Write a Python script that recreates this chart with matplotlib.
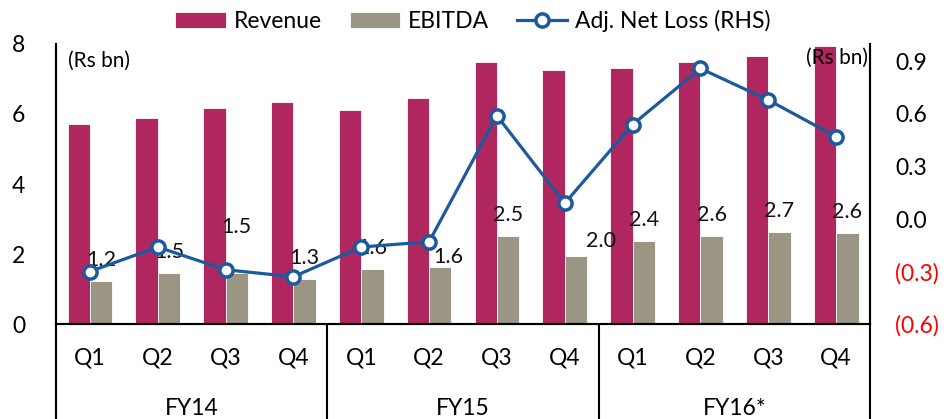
import numpy as np
import matplotlib
matplotlib.use('Agg')
import matplotlib.pyplot as plt
import matplotlib.transforms as mtransforms

plt.rcParams['font.family'] = ['Lato', 'DejaVu Sans']

quarters = ['Q1', 'Q2', 'Q3', 'Q4'] * 3
years = ['FY14', 'FY15', 'FY16*']
revenue = [5.71, 5.89, 6.17, 6.34, 6.11, 6.46, 7.49, 7.26, 7.31, 7.49, 7.66, 7.94]
ebitda = [1.23, 1.46, 1.46, 1.29, 1.57, 1.63, 2.51, 1.94, 2.37, 2.51, 2.63, 2.60]
ebitda_labels = ['1.2', '1.5', '1.5', '1.3', '1.6', '1.6', '2.5', '2.0', '2.4', '2.6', '2.7', '2.6']
net_loss = [-0.30, -0.16, -0.29, -0.33, -0.16, -0.13, 0.59, 0.09, 0.54, 0.86, 0.68, 0.47]

# label nudges in points (dx, dy) to follow the original placement
label_nudge = [(0, 0), (0, 0), (0, 18), (0, 0), (0, 0), (6, -8), (0, 0), (18, -4),
               (0, 0), (0, 0), (0, 0), (0, 0)]

c_rev = '#B0265E'
c_ebitda = '#9B9583'
c_line = '#1B5A9E'

fig = plt.figure(figsize=(9.46, 4.19), dpi=100)
ax = fig.add_axes([0.0592, 0.2267, 0.8605, 0.6683])
ax2 = ax.twinx()

x = np.arange(len(revenue))
w = 0.33
b1 = ax.bar(x - w / 2, revenue, w, color=c_rev, edgecolor='white', linewidth=0.6, label='Revenue')
b2 = ax.bar(x + w / 2, ebitda, w, color=c_ebitda, edgecolor='white', linewidth=0.6, label='EBITDA')

for i, (v, t) in enumerate(zip(ebitda, ebitda_labels)):
    dx, dy = label_nudge[i]
    ax.annotate(t, (x[i] + w / 2, v), xytext=(dx, 8 + dy), textcoords='offset points',
                ha='center', va='bottom', fontsize=15.5, color='#111111')

ln, = ax2.plot(x, net_loss, color=c_line, linewidth=2.3, marker='o', markersize=9.5,
               markerfacecolor='white', markeredgecolor=c_line, markeredgewidth=2.5,
               label='Adj. Net Loss (RHS)')

ax.set_xlim(-0.5, 11.5)
ax.set_ylim(0, 8)
ax.set_yticks([0, 2, 4, 6, 8])
ax2.set_ylim(-0.6, 1.0)
ax2.set_yticks([-0.6, -0.3, 0.0, 0.3, 0.6, 0.9])
ax2.set_yticklabels(['(0.6)', '(0.3)', '0.0', '0.3', '0.6', '0.9'])
for lbl in ax2.get_yticklabels():
    if lbl.get_text().startswith('('):
        lbl.set_color('red')

ax.tick_params(axis='y', length=0, labelsize=16.5, pad=22)
ax2.tick_params(axis='y', length=0, labelsize=16.5, pad=18)
ax.set_xticks([])

for a in (ax, ax2):
    a.spines['top'].set_visible(False)
    for s in ('left', 'right', 'bottom'):
        a.spines[s].set_linewidth(1.5)

ax.text(0.015, 0.975, '(Rs bn)', transform=ax.transAxes, ha='left', va='top', fontsize=15)
ax.text(0.997, 0.985, '(Rs bn)', transform=ax.transAxes, ha='right', va='top', fontsize=15)

# two-level category axis
trans = mtransforms.blended_transform_factory(ax.transData, ax.transAxes)
for i, q in enumerate(quarters):
    ax.text(x[i], -0.12, q, transform=trans, ha='center', va='center', fontsize=16.5)
for k, yname in enumerate(years):
    ax.text(4 * k + 1.5, -0.30, yname, transform=trans, ha='center', va='center', fontsize=16.5)
for xs in (-0.5, 3.5, 7.5, 11.5):
    ax.plot([xs, xs], [0, -0.34], transform=trans, color='black', linewidth=1.5,
            clip_on=False, solid_capstyle='butt')

fig.legend([b1, b2, ln], ['Revenue', 'EBITDA', 'Adj. Net Loss (RHS)'],
           loc='center', bbox_to_anchor=(0.5, 0.95), ncol=3, frameon=False,
           fontsize=16.5, handlelength=2.2, handletextpad=0.35, columnspacing=1.2)

fig.savefig('out.png', dpi=100)
